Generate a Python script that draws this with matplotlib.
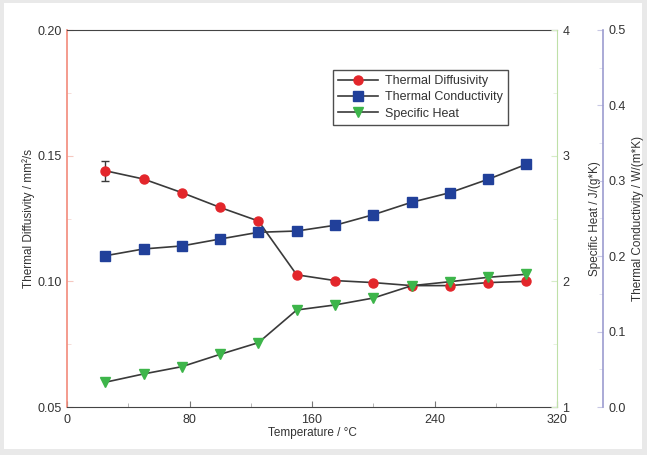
import matplotlib
matplotlib.use('Agg')

import matplotlib.pyplot as plt
from matplotlib.patches import Rectangle
from matplotlib.ticker import MultipleLocator

plt.rcParams['font.family'] = ['Liberation Sans', 'DejaVu Sans']

# data
temperature = [25, 50, 75, 100, 125, 150, 175, 200, 225, 250, 275, 300]
diffusivity = [0.144, 0.1407, 0.1353, 0.1294, 0.1240, 0.1026,
               0.1003, 0.0995, 0.0983, 0.0983, 0.0995, 0.1000]
diffusivity_err = [0.004] + [0] * 11
specific_heat = [1.197, 1.263, 1.321, 1.419, 1.512, 1.772,
                 1.812, 1.867, 1.965, 1.997, 2.032, 2.056]
conductivity = [0.2006, 0.2096, 0.2136, 0.2228, 0.2317, 0.2334,
                0.2410, 0.2550, 0.2715, 0.2842, 0.3020, 0.3219]

x_ticks = [0, 80, 160, 240, 320]
diff_ticks = [0.05, 0.10, 0.15, 0.20]
heat_ticks = [1, 2, 3, 4]
cond_ticks = [0.0, 0.1, 0.2, 0.3, 0.4, 0.5]

red = '#e3262b'
blue = '#21409a'
green = '#3db54a'
line_c = '#3a3a3a'
txt_c = '#333333'
left_spine = '#f28a7a'
right_spine = '#bfe0a8'
third_spine = '#9c9cd0'

fig = plt.figure(figsize=(6.47, 4.55), dpi=100)
fig.patch.set_facecolor('#e9e9e9')
fig.patches.append(Rectangle((4 / 647, 6 / 455), 638 / 647, 446 / 455,
                             transform=fig.transFigure, facecolor='white',
                             edgecolor='none', zorder=-1))

ax = fig.add_axes([67 / 647, 1 - 407 / 455, 490 / 647, 377 / 455])
ax2 = ax.twinx()
ax3 = ax.twinx()
for a in (ax, ax2, ax3):
    a.patch.set_visible(False)

# thermal diffusivity (left axis)
ax.errorbar(temperature, diffusivity, yerr=diffusivity_err, fmt='none',
            ecolor=line_c, elinewidth=1, capsize=3, zorder=2)
h_diff, = ax.plot(temperature, diffusivity, color=line_c, lw=1.2, marker='o',
                  ms=6.5, mfc=red, mec=red, zorder=3)
ax.set_xlim(0, 320)
ax.set_ylim(0.05, 0.20)
ax.set_xticks(x_ticks)
ax.set_yticks(diff_ticks)
ax.set_yticklabels([f'{v:.2f}' for v in diff_ticks])
ax.xaxis.set_minor_locator(MultipleLocator(40))
ax.yaxis.set_minor_locator(MultipleLocator(0.025))
ax.tick_params(axis='x', direction='in', length=4, colors='#777777',
               labelcolor=txt_c, labelsize=9, top=False, pad=5)
ax.tick_params(axis='x', which='minor', direction='in', length=3, colors='#aaaaaa', top=False)
ax.tick_params(axis='y', direction='in', length=4, colors='#f5c8c0',
               labelcolor=txt_c, labelsize=9, right=False)
ax.tick_params(axis='y', which='minor', direction='in', length=3, colors='#f5d8d2', right=False)
ax.spines['left'].set_color(left_spine)
ax.spines['left'].set_linewidth(1.2)
ax.spines['bottom'].set_color('#444444')
ax.spines['top'].set_color('#444444')
ax.spines['right'].set_visible(False)
ax.set_xlabel('Temperature / °C', fontsize=8.5, color=txt_c, labelpad=1)
ax.set_ylabel('Thermal Diffusivity / mm²/s', fontsize=8.5, color=txt_c, labelpad=2)

# specific heat (right axis)
h_heat, = ax2.plot(temperature, specific_heat, color=line_c, lw=1.2, marker='v',
                   ms=7, mfc=green, mec=green, zorder=3)
ax2.set_ylim(1, 4)
ax2.set_yticks(heat_ticks)
ax2.yaxis.set_minor_locator(MultipleLocator(0.5))
ax2.tick_params(axis='y', direction='in', length=4, colors='#d6ecc8',
                labelcolor=txt_c, labelsize=9, pad=4)
ax2.tick_params(axis='y', which='minor', direction='in', length=3, colors='#e2f0d8')
ax2.spines['right'].set_color(right_spine)
for s in ('left', 'top', 'bottom'):
    ax2.spines[s].set_visible(False)
ax2.set_ylabel('Specific Heat / J/(g*K)', fontsize=8.5, color=txt_c, labelpad=14)

# thermal conductivity (outer right axis)
h_cond, = ax3.plot(temperature, conductivity, color=line_c, lw=1.2, marker='s',
                   ms=7.5, mfc=blue, mec=blue, zorder=3)
ax3.set_ylim(0.0, 0.5)
ax3.set_yticks(cond_ticks)
ax3.set_yticklabels([f'{v:.1f}' for v in cond_ticks])
ax3.yaxis.set_minor_locator(MultipleLocator(0.05))
ax3.spines['right'].set_position(('axes', 1.094))
ax3.spines['right'].set_color(third_spine)
ax3.spines['right'].set_linewidth(1.2)
for s in ('left', 'top', 'bottom'):
    ax3.spines[s].set_visible(False)
ax3.tick_params(axis='y', direction='in', length=4, colors='#c8c8e4',
                labelcolor=txt_c, labelsize=9, pad=4)
ax3.tick_params(axis='y', which='minor', direction='in', length=3, colors='#dcdcee')
ax3.set_ylabel('Thermal Conductivity / W/(m*K)', fontsize=8.5, color=txt_c, labelpad=4)

labels = ['Thermal Diffusivity', 'Thermal Conductivity', 'Specific Heat']
leg = ax3.legend([h_diff, h_cond, h_heat], labels, loc='upper left',
                 bbox_to_anchor=(0.542, 0.894), fontsize=9, frameon=True,
                 fancybox=False, borderpad=0.4, handlelength=3.2,
                 labelspacing=0.35, handletextpad=0.6, borderaxespad=0)
leg.get_frame().set_edgecolor('#222222')
leg.get_frame().set_linewidth(1)
for t in leg.get_texts():
    t.set_color(txt_c)

plt.savefig('out.png', dpi=100)
plt.close()
